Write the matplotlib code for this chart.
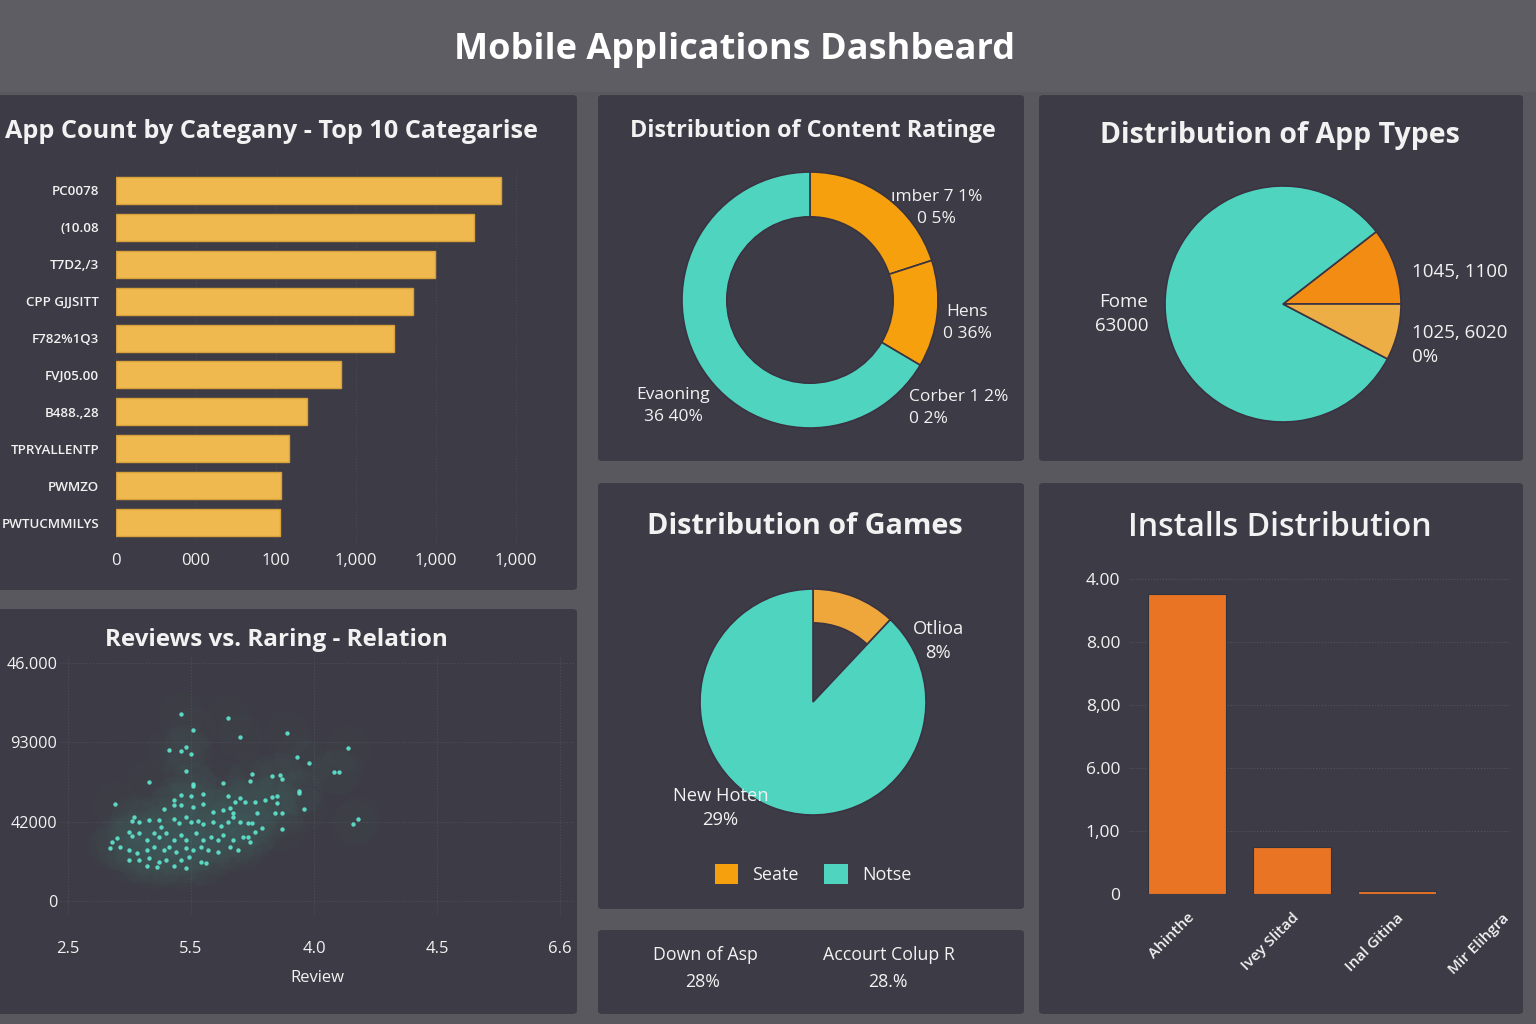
import numpy as np
import matplotlib.pyplot as plt
from matplotlib.patches import FancyBboxPatch, Patch

W, H = 1536, 1024
BG = '#59585f'
PANEL = '#3d3b45'
TXT = '#f2f2f2'
TEAL = '#4fd4bf'
ORANGE = '#f5a00c'

plt.rcParams['font.family'] = ['Open Sans', 'DejaVu Sans']

# --- data ---
categories = ['PC0078', '(10.08', 'T7D2,/3', 'CPP GJJSITT', 'F782%1Q3',
              'FVJ05.00', 'B488.,28', 'TPRYALLENTP', 'PWMZO', 'PWTUCMMILYS']
app_counts = [962, 895, 798, 743, 695, 563, 477, 432, 412, 410]
count_ticks = [0, 200, 400, 600, 800, 1000]
count_tick_labels = ['0', '000', '100', '1,000', '1,000', '1,000']

rating_shares = [20.0, 13.5, 66.5]
rating_colors = [ORANGE, ORANGE, TEAL]

type_shares = [10.5, 81.8, 7.7]
type_colors = ['#f28c13', TEAL, '#edae45']

game_shares = [12, 88]
game_names = ['Seate', 'Notse']

ratings = [2.96, 3.15, 3.01, 3.20, 3.39, 3.64, 2.91, 2.98, 2.96, 3.00,
           3.43, 3.48, 3.58, 3.60, 2.98, 3.25, 3.33, 3.36, 3.24, 3.37,
           2.83, 3.01, 3.01, 3.13, 3.44, 3.44, 3.35, 2.96, 3.00, 3.05,
           3.15, 3.20, 3.18, 3.22, 3.26, 3.30, 3.33, 3.35, 2.93, 2.93,
           2.96, 2.69, 3.05, 2.89, 3.01, 3.09, 3.13, 3.16, 3.17, 3.27,
           3.34, 3.37, 3.46, 3.68, 3.66, 2.77, 2.76, 2.79, 2.83, 2.87,
           2.88, 2.93, 2.95, 2.98, 3.00, 3.03, 3.05, 3.09, 3.12, 3.15,
           3.17, 3.20, 3.23, 3.25, 3.29, 3.26, 3.37, 2.75, 2.76, 2.70,
           2.68, 2.79, 2.82, 2.85, 2.87, 2.90, 2.93, 2.96, 2.98, 3.02,
           3.05, 3.08, 3.11, 3.13, 3.17, 3.21, 3.23, 3.24, 2.67, 2.71,
           2.75, 2.78, 2.82, 2.85, 2.89, 2.91, 2.94, 2.98, 3.01, 3.04,
           3.07, 3.11, 3.16, 3.19, 2.75, 2.79, 2.83, 2.87, 2.90, 2.96,
           2.99, 3.04, 3.06, 2.82, 2.86, 2.93, 2.98]
reviews = [4710, 4610, 4310, 4130, 4240, 3860, 3810, 3880, 3780, 3710,
           3630, 3480, 3250, 3250, 3280, 3200, 3150, 3180, 3030, 3080,
           3000, 2950, 2900, 2980, 2770, 2720, 2650, 2670, 2650, 2700,
           2650, 2600, 2500, 2500, 2500, 2550, 2620, 2470, 2550, 2420,
           2420, 2450, 2450, 2320, 2370, 2240, 2290, 2350, 2220, 2220,
           2220, 2220, 2320, 2070, 1940, 2120, 2020, 1990, 2040, 2040,
           1870, 2070, 1970, 2120, 1990, 2020, 1940, 1990, 1890, 1990,
           2120, 1990, 1970, 1970, 1840, 1740, 1820, 1740, 1640, 1590,
           1490, 1710, 1540, 1710, 1610, 1710, 1540, 1660, 1540, 1710,
           1540, 1610, 1540, 1660, 1540, 1610, 1610, 1490, 1340, 1360,
           1290, 1210, 1290, 1360, 1290, 1360, 1240, 1340, 1290, 1360,
           1290, 1240, 1360, 1290, 1030, 1030, 1080, 980, 1030, 1030,
           1110, 980, 960, 880, 860, 880, 830]
rating_ticks = [2.5, 3.0, 3.5, 4.0, 4.5]
rating_tick_labels = ['2.5', '5.5', '4.0', '4.5', '6.6']
review_ticks = [0, 2000, 4000, 6000]
review_tick_labels = ['0', '42000', '93000', '46.000']

install_labels = ['Ahinthe', 'Ivey Slitad', 'Inal Gitina', 'Mir Elihgra']
install_values = [4.76, 0.75, 0.05, 0.0]
install_ticks = [0, 1, 2, 3, 4, 5]
install_tick_labels = ['0', '1,00', '6.00', '8,00', '8.00', '4.00']


fig = plt.figure(figsize=(15.36, 10.24), dpi=100, facecolor=BG)


def panel(x0, y0, x1, y1):
    fig.patches.append(FancyBboxPatch(
        (x0 / W, 1 - y1 / H), (x1 - x0) / W, (y1 - y0) / H,
        boxstyle='round,pad=0,rounding_size=0.003', transform=fig.transFigure,
        fc=PANEL, ec='none', zorder=-10))


def ftext(x, y, s, **kw):
    kw.setdefault('color', TXT)
    kw.setdefault('ha', 'center')
    kw.setdefault('va', 'center')
    return fig.text(x / W, 1 - y / H, s, **kw)


def axes_px(x0, y0, x1, y1):
    ax = fig.add_axes([x0 / W, 1 - y1 / H, (x1 - x0) / W, (y1 - y0) / H])
    ax.set_facecolor('none')
    for s in ax.spines.values():
        s.set_visible(False)
    ax.tick_params(length=0, colors=TXT)
    return ax


def pie_axes(cx, cy, r, m=1.05):
    return axes_px(cx - r * m, cy - r * m, cx + r * m, cy + r * m)


# title band is a touch lighter than the gaps between panels
fig.patches.append(FancyBboxPatch((0, 1 - 92 / H), 1, 92 / H, boxstyle='square,pad=0',
                                  transform=fig.transFigure, fc='#5e5d63', ec='none',
                                  zorder=-11))

# panels
panel(-10, 95, 577, 590)
panel(598, 95, 1024, 461)
panel(1039, 95, 1523, 461)
panel(-10, 609, 577, 1014)
panel(598, 483, 1024, 909)
panel(598, 930, 1024, 1014)
panel(1039, 483, 1523, 1014)

ftext(735, 50, 'Mobile Applications Dashbeard', fontsize=26, fontweight='bold',
      color='white')

# --- app count by category ---
ftext(5, 131, 'App Count by Categany - Top 10 Categarise', ha='left',
      fontsize=18.2, fontweight='bold')
ax = axes_px(116, 168, 556, 545)
ypos = np.arange(len(categories))
ax.barh(ypos, app_counts, height=0.73, color='#efb94f', edgecolor='#d9a13a', lw=1)
ax.set_ylim(9.6, -0.6)
ax.set_xlim(0, 1100)
ax.set_yticks(ypos)
ax.set_yticklabels(categories, fontsize=9.6, fontweight='semibold')
ax.set_xticks(count_ticks)
ax.set_xticklabels(count_tick_labels, fontsize=12)
ax.tick_params(axis='y', pad=12)
ax.tick_params(axis='x', pad=6)
ax.xaxis.grid(True, ls=':', color='#4b4953', lw=0.8)
ax.set_axisbelow(True)

# --- content rating donut ---
ftext(813, 131, 'Distribution of Content Ratinge', fontsize=16.8, fontweight='bold')
ax = pie_axes(810, 300, 128)
ax.pie(rating_shares, colors=rating_colors, startangle=90, counterclock=False,
       wedgeprops=dict(width=0.35, edgecolor='#3a3342', linewidth=1.2))
ax.set_xlim(-1.05, 1.05)
ax.set_ylim(-1.05, 1.05)
ax.text(0.99, 0.72, 'ımber 7 1%\n0 5%', ha='center', va='center', color=TXT,
        fontsize=12.5, linespacing=1.5)
ax.text(1.23, -0.18, 'Hens\n0 36%', ha='center', va='center', color=TXT,
        fontsize=12.5, linespacing=1.5)
ax.text(0.77, -0.84, 'Corber 1 2%\n0 2%', ha='left', va='center', color=TXT,
        fontsize=12.5, linespacing=1.5)
ax.text(-1.07, -0.83, 'Evaoning\n36 40%', ha='center', va='center', color=TXT,
        fontsize=12.5, linespacing=1.5)

# --- app types pie ---
ftext(1280, 136, 'Distribution of App Types', fontsize=20.5, fontweight='bold')
ax = pie_axes(1283, 304, 118)
ax.pie(type_shares, colors=type_colors, startangle=0,
       wedgeprops=dict(edgecolor='#3a3342', linewidth=1.2))
ax.set_xlim(-1.05, 1.05)
ax.set_ylim(-1.05, 1.05)
ax.text(-1.14, -0.085, 'Fome\n63000', ha='right', va='center', color=TXT,
        fontsize=13.5, linespacing=1.45)
ax.text(1.09, 0.27, '1045, 1100', ha='left', va='center', color=TXT, fontsize=13.5)
ax.text(1.09, -0.35, '1025, 6020\n0%', ha='left', va='center', color=TXT,
        fontsize=13.5, linespacing=1.45)

# --- reviews vs rating scatter ---
ftext(276, 640, 'Reviews vs. Raring - Relation', fontsize=17.5, fontweight='bold')
ax = axes_px(60, 655, 575, 915)
ax.scatter(ratings, reviews, s=1100, color='#45b09c', alpha=0.02, lw=0)
ax.scatter(ratings, reviews, s=10, color='#5fe8d0', alpha=0.9, lw=0)
ax.set_xlim(2.4675, 4.561)
ax.set_ylim(-353, 6202)
ax.set_xticks(rating_ticks)
ax.set_xticklabels(rating_tick_labels, fontsize=12)
ax.set_yticks(review_ticks)
ax.set_yticklabels(review_tick_labels, fontsize=11.7)
ax.tick_params(axis='y', pad=2)
ax.tick_params(axis='x', pad=19)
ax.set_xlabel('Review', color=TXT, fontsize=12, labelpad=9)
ax.grid(True, ls=':', color='#4f4d57', lw=0.8)
ax.set_axisbelow(True)

# --- games pie ---
ftext(805, 527, 'Distribution of Games', fontsize=20.8, fontweight='bold')
ax = pie_axes(813, 702, 113)
wedges, _ = ax.pie(game_shares, colors=['#efa63a', TEAL], startangle=90,
                   counterclock=False,
                   wedgeprops=dict(edgecolor='#3a3342', linewidth=1.2))
wedges[0].set_width(0.3)
ax.set_xlim(-1.05, 1.05)
ax.set_ylim(-1.05, 1.05)
ax.text(1.11, 0.54, 'Otlioa\n8%', ha='center', va='center', color=TXT,
        fontsize=13.2, linespacing=1.45)
ax.text(-0.82, -0.94, 'New Hoten\n29%', ha='center', va='center', color=TXT,
        fontsize=13.2, linespacing=1.45)
handles = [Patch(fc=ORANGE, ec='none'), Patch(fc=TEAL, ec='none')]
fig.legend(handles, game_names, loc='center', bbox_to_anchor=(813 / W, 1 - 874 / H),
           ncol=2, frameon=False, fontsize=13, labelcolor=TXT,
           handlelength=1.3, handleheight=1.3, handletextpad=0.8,
           columnspacing=1.4)

# --- KPI strip ---
ftext(705, 955, 'Down of Asp', fontsize=12.8)
ftext(703, 982, '28%', fontsize=12.8)
ftext(889, 955, 'Accourt Colup R', fontsize=12.8)
ftext(888, 982, '28.%', fontsize=12.8)

# --- installs distribution ---
ftext(1280, 527, 'Installs Distribution', fontsize=23, fontweight='semibold')
ax = axes_px(1130, 570, 1510, 894)
xpos = np.arange(len(install_labels))
ax.bar(xpos, install_values, width=0.74, color='#e87424', edgecolor='#2e3440', lw=0.8)
ax.set_xlim(-0.543, 3.076)
ax.set_ylim(0, 5.14)
ax.set_yticks(install_ticks)
ax.set_yticklabels(install_tick_labels, fontsize=12.5)
ax.set_xticks(xpos)
ax.set_xticklabels(install_labels, fontsize=11, fontweight='semibold', rotation=45,
                   ha='right', rotation_mode='anchor')
ax.tick_params(axis='y', pad=7)
ax.tick_params(axis='x', pad=12)
ax.yaxis.grid(True, ls=':', color='#55535d', lw=0.8)
ax.set_axisbelow(True)

fig.savefig('out.png', dpi=100, facecolor=BG)
